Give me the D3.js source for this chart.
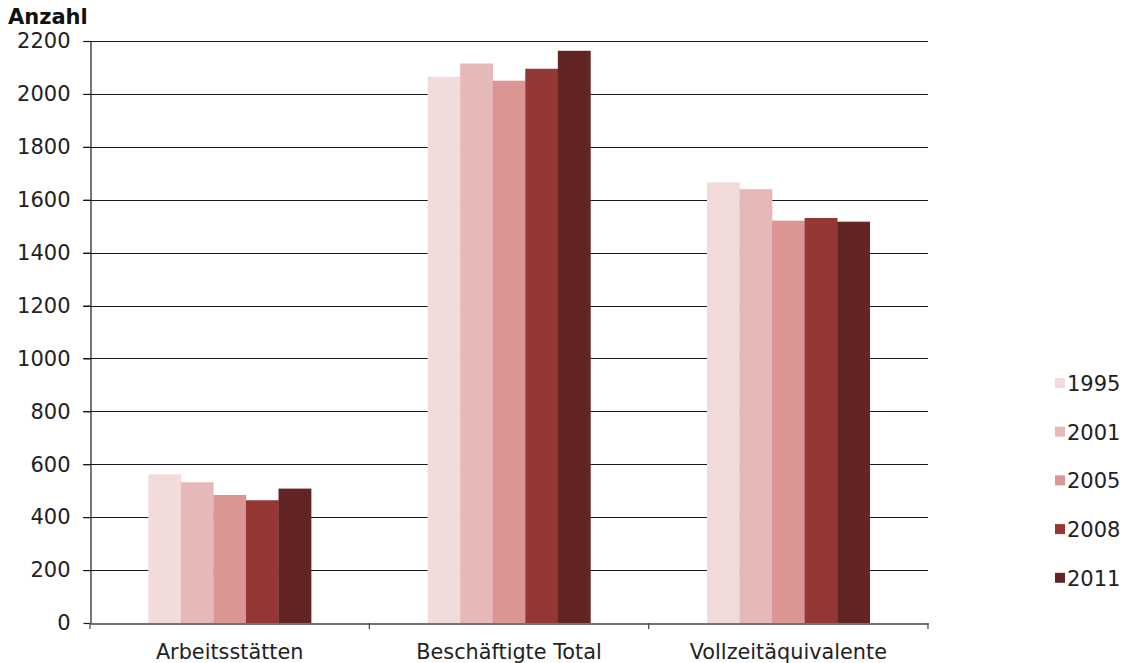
<!DOCTYPE html>
<html><head><meta charset="utf-8">
<script src="https://cdn.jsdelivr.net/npm/d3@7"></script>
<style>body{margin:0;background:#fff}svg{display:block}text{font-family:"DejaVu Sans",Verdana,sans-serif}</style>
</head><body><svg id="c" width="1130" height="663"></svg>
<script>
const categories = ["Arbeitsstätten", "Beschäftigte Total", "Vollzeitäquivalente"];
const years = ["1995", "2001", "2005", "2008", "2011"];
const v1995 = [562, 2065, 1666];
const v2001 = [532, 2115, 1640];
const v2005 = [484, 2050, 1521];
const v2008 = [464, 2095, 1531];
const v2011 = [508, 2163, 1517];
const yTicks = [0, 200, 400, 600, 800, 1000, 1200, 1400, 1600, 1800, 2000, 2200];
const colors = ["#F2DCDB", "#E6B9B8", "#D99694", "#953735", "#632523"];
const seriesValues = [v1995, v2001, v2005, v2008, v2011];

const svg = d3.select("#c");
const L = 90, R = 928, T = 41, B = 623;
const x = d3.scaleBand().domain(categories).range([L, R]).paddingInner(0).paddingOuter(0);
const xs = d3.scaleBand().domain(years).range([0, x.bandwidth()]).paddingInner(0).paddingOuter(1.79);
const y = d3.scaleLinear().domain([0, 2200]).range([B, T]);

// gridlines
svg.append("g").selectAll("line").data(yTicks.filter(d => d > 0)).join("line")
  .attr("x1", L - 7).attr("x2", R).attr("y1", d => Math.round(y(d)) + 0.5).attr("y2", d => Math.round(y(d)) + 0.5)
  .attr("stroke", "#1a1a1a").attr("stroke-width", 1.2);

// bars
years.forEach((yr, i) => {
  svg.append("g").selectAll("rect").data(categories).join("rect")
    .attr("x", c => x(c) + xs(yr))
    .attr("width", xs.bandwidth() + 0.3)
    .attr("y", (c, j) => y(seriesValues[i][j]))
    .attr("height", (c, j) => B - y(seriesValues[i][j]))
    .attr("fill", colors[i]);
});

// y axis
const ya = svg.append("g").attr("transform", `translate(${L + 0.5},0)`)
  .call(d3.axisLeft(y).tickValues(yTicks).tickFormat(d3.format("d")).tickSize(7).tickPadding(13).tickSizeOuter(0));
ya.select(".domain").attr("stroke", "#1a1a1a").attr("stroke-width", 1.2);
ya.selectAll(".tick line").attr("stroke", "#1a1a1a").attr("stroke-width", 1.2);
ya.selectAll("text").attr("font-size", 21).attr("fill", "#222").style("font-family", "DejaVu Sans");

// x axis
const xa = svg.append("g").attr("transform", `translate(0,${B + 0.5})`)
  .call(d3.axisBottom(x).tickSize(0).tickPadding(0).tickSizeOuter(0));
xa.select(".domain").attr("stroke", "#444").attr("stroke-width", 1.5);
xa.selectAll(".tick text").attr("font-size", 20.8).attr("fill", "#222").attr("dy", 0).attr("y", 35)
  .style("font-family", "DejaVu Sans");
svg.append("g").selectAll("line").data(d3.range(categories.length + 1)).join("line")
  .attr("x1", i => i < categories.length ? x(categories[i]) : x(categories[i - 1]) + x.bandwidth())
  .attr("x2", i => i < categories.length ? x(categories[i]) : x(categories[i - 1]) + x.bandwidth())
  .attr("y1", B).attr("y2", B + 6).attr("stroke", "#444").attr("stroke-width", 1.2);

// title
svg.append("text").attr("x", 8).attr("y", 24).attr("font-size", 21).attr("font-weight", "bold")
  .attr("fill", "#111").text("Anzahl");

// legend
const lg = svg.append("g").selectAll("g").data(years).join("g")
  .attr("transform", (d, i) => `translate(1055,${383 + i * 48.7})`);
lg.append("rect").attr("x", 0).attr("y", -5).attr("width", 10).attr("height", 10).attr("fill", (d, i) => colors[i]);
lg.append("text").attr("x", 12).attr("y", 8).attr("font-size", 21).attr("fill", "#222").text(d => d);
</script></body></html>
